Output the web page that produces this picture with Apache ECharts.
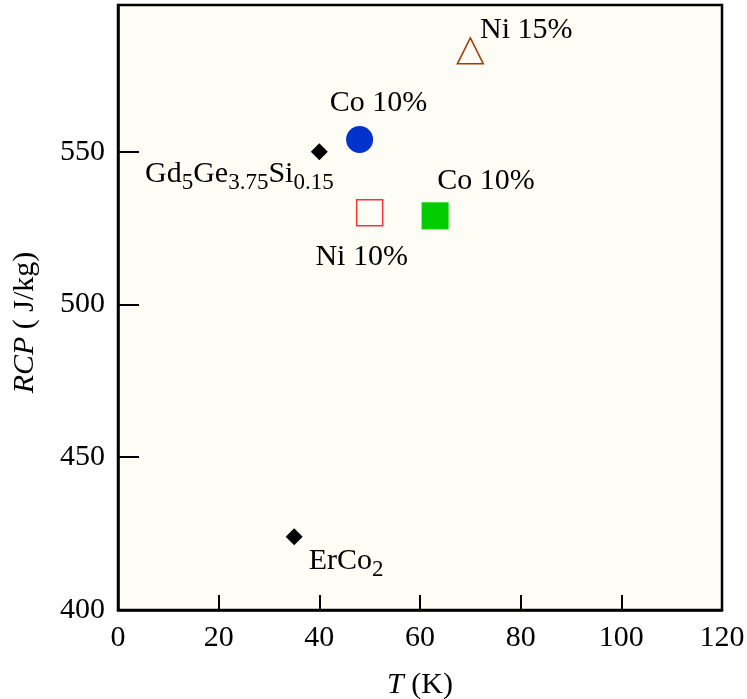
<!DOCTYPE html>
<html>
<head>
<meta charset="utf-8">
<script src="https://cdn.jsdelivr.net/npm/echarts@6/dist/echarts.min.js"></script>
<style>html,body{margin:0;padding:0;background:#fff}#c{width:747px;height:699px}</style>
</head>
<body>
<div id="c"></div>
<script>
// ---- data ----
const pointNames = ['Gd5Ge3.75Si0.15', 'ErCo2', 'Co 10%', 'Ni 10%', 'Co 10%', 'Ni 15%'];
const tempK = [40, 35, 48, 50, 63, 70];
const rcpValues = [550, 424, 554, 530, 529, 583];
const xTicks = [0, 20, 40, 60, 80, 100, 120];
const yTicks = [400, 450, 500, 550];

// ---- styles ----
const FONT = '"Liberation Serif", "Times New Roman", serif';
const FS = 30;
const styles = [
  { symbol: 'diamond', size: 17, fill: '#000', stroke: '#000', lw: 0, offset: [-80, 22],
    text: '{a|Gd}{s|5}{a|Ge}{s|3.75}{a|Si}{s|0.15}' },
  { symbol: 'diamond', size: 17, fill: '#000', stroke: '#000', lw: 0, offset: [52, 24],
    text: '{a|ErCo}{s|2}' },
  { symbol: 'circle', size: 27, fill: '#0033cc', stroke: '#0033cc', lw: 0, offset: [19, -36] },
  { symbol: 'rect', size: 26, fill: '#fdfdf6', stroke: '#ff3333', lw: 1.5, offset: [-8, 44] },
  { symbol: 'rect', size: 27, fill: '#00cc00', stroke: '#00cc00', lw: 0, offset: [51, -35] },
  { symbol: 'triangle', size: 26, fill: '#fdfdf6', stroke: '#a33a00', lw: 1.5, offset: [56, -21] }
];

const rich = {
  a: { fontFamily: FONT, fontSize: FS, color: '#000', lineHeight: 30, verticalAlign: 'top' },
  s: { fontFamily: FONT, fontSize: 23, color: '#000', lineHeight: 23, verticalAlign: 'top', padding: [13, 0, 0, 0] }
};

const series = pointNames.map((name, i) => {
  const st = styles[i];
  return {
    type: 'scatter',
    name: name,
    data: [[tempK[i], rcpValues[i]]],
    symbol: st.symbol,
    symbolSize: st.size,
    itemStyle: { color: st.fill, borderColor: st.stroke, borderWidth: st.lw, opacity: 1 },
    label: {
      show: true,
      position: 'inside',
      offset: st.offset,
      align: 'center',
      verticalAlign: 'middle',
      color: '#000',
      fontFamily: FONT,
      fontSize: FS,
      textBorderWidth: 0,
      formatter: st.text ? st.text : name,
      rich: st.text ? rich : undefined
    },
    emphasis: { disabled: true },
    z: 3
  };
});

const chart = echarts.init(document.getElementById('c'), null, { renderer: 'canvas' });
chart.setOption({
  backgroundColor: '#ffffff',
  animation: false,
  grid: {
    left: 118, right: 25, top: 5, bottom: 89,
    containLabel: false, outerBoundsMode: 'none',
    show: true, backgroundColor: '#fdfdf6', borderColor: '#000', borderWidth: 2.5
  },
  xAxis: {
    type: 'value', min: 0, max: 120, interval: 20,
    name: '{i|T} (K)', nameLocation: 'middle', nameGap: 60,
    nameTextStyle: { fontFamily: FONT, fontSize: FS, color: '#000',
      rich: { i: { fontFamily: FONT, fontSize: FS, fontStyle: 'italic', color: '#000' } } },
    axisLine: { show: true, onZero: false, lineStyle: { color: '#000', width: 2.5 } },
    axisTick: { show: true, inside: true, length: 15, lineStyle: { color: '#000', width: 2 }, customValues: xTicks },
    axisLabel: { show: true, margin: 13, fontFamily: FONT, fontSize: FS, color: '#000', customValues: xTicks },
    splitLine: { show: false }
  },
  yAxis: {
    type: 'value', min: 400, max: 598,
    name: '{i|RCP} ( J/kg)', nameLocation: 'middle', nameGap: 78, nameRotate: 90,
    nameTextStyle: { fontFamily: FONT, fontSize: FS, color: '#000', padding: [0, 30, 0, 0],
      rich: { i: { fontFamily: FONT, fontSize: FS, fontStyle: 'italic', color: '#000' } } },
    axisLine: { show: true, onZero: false, lineStyle: { color: '#000', width: 2.5 } },
    axisTick: { show: true, inside: true, length: 21, lineStyle: { color: '#000', width: 2 }, customValues: yTicks },
    axisLabel: { show: true, margin: 13, fontFamily: FONT, fontSize: FS, color: '#000', customValues: yTicks },
    splitLine: { show: false }
  },
  series: series
});
</script>
</body>
</html>
